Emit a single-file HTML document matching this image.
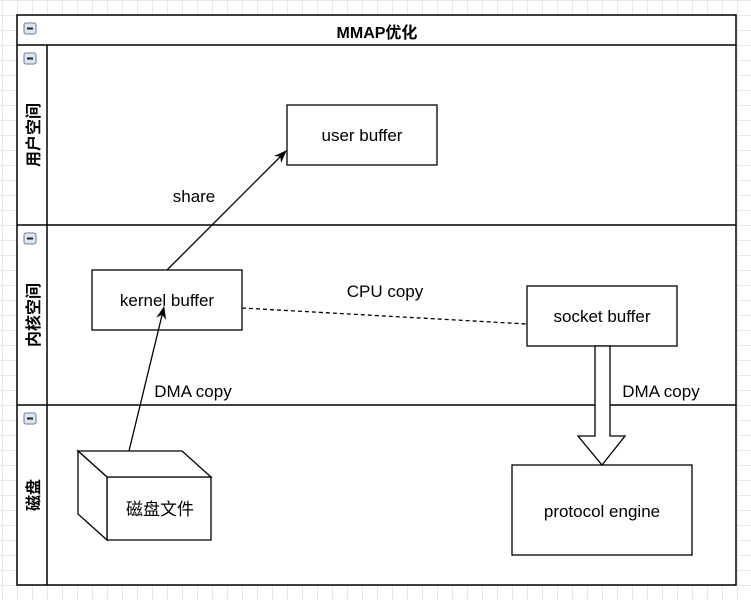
<!DOCTYPE html><html><head><style>
body{margin:0;width:751px;height:600px;overflow:hidden;background:#fff;
background-image:linear-gradient(#e8e8e8 1px,transparent 1px),linear-gradient(90deg,#e8e8e8 1px,transparent 1px);background-size:15px 15px;background-position:2px 0px;}
</style></head><body>
<svg width="751" height="600" style="position:absolute;left:0;top:0" font-family="Liberation Sans, Noto Sans CJK SC, sans-serif">
<defs><marker id="a" markerWidth="14" markerHeight="14" refX="12" refY="7" orient="auto" markerUnits="userSpaceOnUse"><path d="M0,2 L13,7 L0,12 L4,7z" fill="#000"/></marker></defs>
<rect x="17" y="15" width="719" height="570" fill="#fff" stroke="#000" stroke-width="1.5"/>
<line x1="17" y1="45" x2="736" y2="45" stroke="#000" stroke-width="1.5"/>
<line x1="17" y1="225" x2="736" y2="225" stroke="#000" stroke-width="1.5"/>
<line x1="17" y1="405" x2="736" y2="405" stroke="#000" stroke-width="1.5"/>
<line x1="47" y1="45" x2="47" y2="585" stroke="#000" stroke-width="1.5"/>
<text x="377" y="38" font-size="16" font-weight="bold" text-anchor="middle">MMAP优化</text>
<g fill="#dde6ee" stroke="#6b7f99"><rect x="24" y="23" width="12" height="11" rx="2"/><rect x="24" y="53" width="12" height="11" rx="2"/><rect x="24" y="233" width="12" height="11" rx="2"/><rect x="24" y="413" width="12" height="11" rx="2"/></g>
<g stroke="#222" stroke-width="2"><line x1="27" y1="28.5" x2="33" y2="28.5"/><line x1="27" y1="58.5" x2="33" y2="58.5"/><line x1="27" y1="238.5" x2="33" y2="238.5"/><line x1="27" y1="418.5" x2="33" y2="418.5"/></g>
<g font-size="16" font-weight="bold" text-anchor="middle">
<text transform="translate(39,135) rotate(-90)">用户空间</text>
<text transform="translate(39,315) rotate(-90)">内核空间</text>
<text transform="translate(39,495) rotate(-90)">磁盘</text></g>
<g fill="#fff" stroke="#000" stroke-width="1.3">
<rect x="287" y="105" width="150" height="60"/>
<rect x="92" y="270" width="150" height="60"/>
<rect x="527" y="286" width="150" height="60"/>
<rect x="512" y="465" width="180" height="90"/>
<path d="M107,477 L211,477 L211,540 L107,540z"/>
<path d="M78,451 L182,451 L211,477 L107,477z"/>
<path d="M78,451 L107,477 L107,540 L78,514z"/>
</g>
<g font-size="17" text-anchor="middle">
<text x="362" y="141">user buffer</text>
<text x="167" y="306">kernel buffer</text>
<text x="602" y="322">socket buffer</text>
<text x="602" y="517">protocol engine</text>
<text x="160" y="515">磁盘文件</text>
<text x="194" y="202">share</text>
<text x="385" y="297">CPU copy</text>
<text x="193" y="397">DMA copy</text>
<text x="661" y="397">DMA copy</text></g>
<line x1="167" y1="270" x2="286" y2="151" stroke="#000" stroke-width="1.3" marker-end="url(#a)"/>
<line x1="129" y1="451" x2="164" y2="307" stroke="#000" stroke-width="1.3" marker-end="url(#a)"/>
<line x1="242" y1="308" x2="527" y2="324" stroke="#000" stroke-width="1.3" stroke-dasharray="4,3"/>
<path d="M595,346 L610,346 L610,436 L625,436 L602,465 L578,436 L595,436z" fill="#fff" stroke="#000" stroke-width="1.3"/>
</svg></body></html>
